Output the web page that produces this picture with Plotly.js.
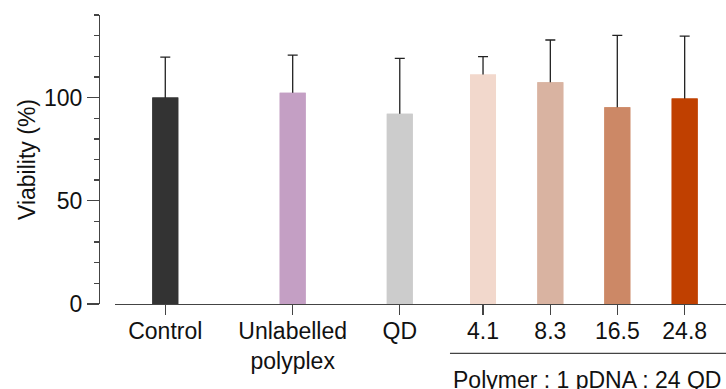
<!DOCTYPE html>
<html>
<head>
<meta charset="utf-8">
<script src="https://cdn.plot.ly/plotly-3.0.1.min.js"></script>
<style>
  html, body { margin: 0; padding: 0; background: #ffffff; }
  #chart { width: 726px; height: 389px; }
</style>
</head>
<body>
<div id="chart"></div>
<script>
// ---- data ----
const categories = ["Control", "Unlabelled<br>polyplex", "QD", "4.1", "8.3", "16.5", "24.8"];
const viability = [100, 102.3, 92.2, 111.2, 107.4, 95.3, 99.5];
const viabilityErr = [19.6, 18.3, 26.8, 8.6, 20.5, 34.8, 30.3];
const barColors = ["#333333", "#c49fc4", "#cccccc", "#f2d8cc", "#d9b3a1", "#cc8866", "#c04000"];
const groupLabel = "Polymer : 1 pDNA : 24 QD";
const yTitle = "Viability (%)";

// ---- layout (slot centres on the x axis, in slot units) ----
const slotCenters = [0, 1.893, 3.484, 4.721, 5.721, 6.716, 7.717];
const xRange = [-0.747, 8.331];
const FONT = "Liberation Sans, Arial, Helvetica, sans-serif";
const FS = 23;
const AXIS_COLOR = "#444444";
const BAR_W = 0.386;

// error bars (symmetric; the lower half is hidden by the bar drawn on top)
const errTrace = {
  type: "bar",
  x: slotCenters,
  y: viability,
  width: BAR_W,
  marker: { color: barColors, line: { width: 0 } },
  error_y: {
    type: "data",
    array: viabilityErr,
    color: "#222222",
    thickness: 1.3,
    width: 5
  },
  hoverinfo: "skip"
};
const barTrace = {
  type: "bar",
  x: slotCenters,
  y: viability,
  width: BAR_W,
  marker: { color: barColors, line: { width: 0 } },
  hoverinfo: "skip"
};

const layout = {
  width: 726,
  height: 389,
  margin: { l: 99, r: 0, t: 15, b: 85 },
  paper_bgcolor: "#ffffff",
  plot_bgcolor: "#ffffff",
  showlegend: false,
  barmode: "overlay",
  font: { family: FONT, size: FS, color: "#111111" },
  xaxis: {
    domain: [16 / 627, 1],
    range: xRange,
    tickmode: "array",
    tickvals: slotCenters,
    ticktext: categories,
    ticks: "outside",
    ticklen: 10,
    tickwidth: 1.3,
    tickcolor: AXIS_COLOR,
    ticklabelstandoff: -4,
    showline: true,
    linecolor: AXIS_COLOR,
    linewidth: 1.3,
    showgrid: false,
    zeroline: false,
    fixedrange: true,
    tickfont: { family: FONT, size: FS, color: "#111111" }
  },
  yaxis: {
    anchor: "free",
    position: 0,
    range: [0, 140],
    tickmode: "array",
    tickvals: [0, 50, 100],
    ticks: "outside",
    ticklen: 12,
    tickwidth: 1.3,
    tickcolor: AXIS_COLOR,
    minor: { dtick: 10, ticks: "outside", ticklen: 5, tickwidth: 1.3, tickcolor: AXIS_COLOR, showgrid: false },
    showline: true,
    linecolor: AXIS_COLOR,
    linewidth: 1.3,
    showgrid: false,
    zeroline: false,
    fixedrange: true,
    tickfont: { family: FONT, size: FS, color: "#111111" },
    title: { text: yTitle, font: { family: FONT, size: FS, color: "#111111" }, standoff: 0 }
  },
  shapes: [{
    type: "line",
    xref: "x", yref: "paper",
    x0: 4.23, x1: xRange[1],
    y0: -0.171, y1: -0.171,
    line: { color: AXIS_COLOR, width: 1.3 }
  }],
  annotations: [{
    xref: "x", yref: "paper",
    x: 6.26, y: -0.262,
    xanchor: "center", yanchor: "middle",
    text: groupLabel,
    showarrow: false,
    font: { family: FONT, size: FS, color: "#111111" }
  }]
};

Plotly.newPlot("chart", [errTrace, barTrace], layout, { displayModeBar: false, staticPlot: true });
</script>
</body>
</html>
